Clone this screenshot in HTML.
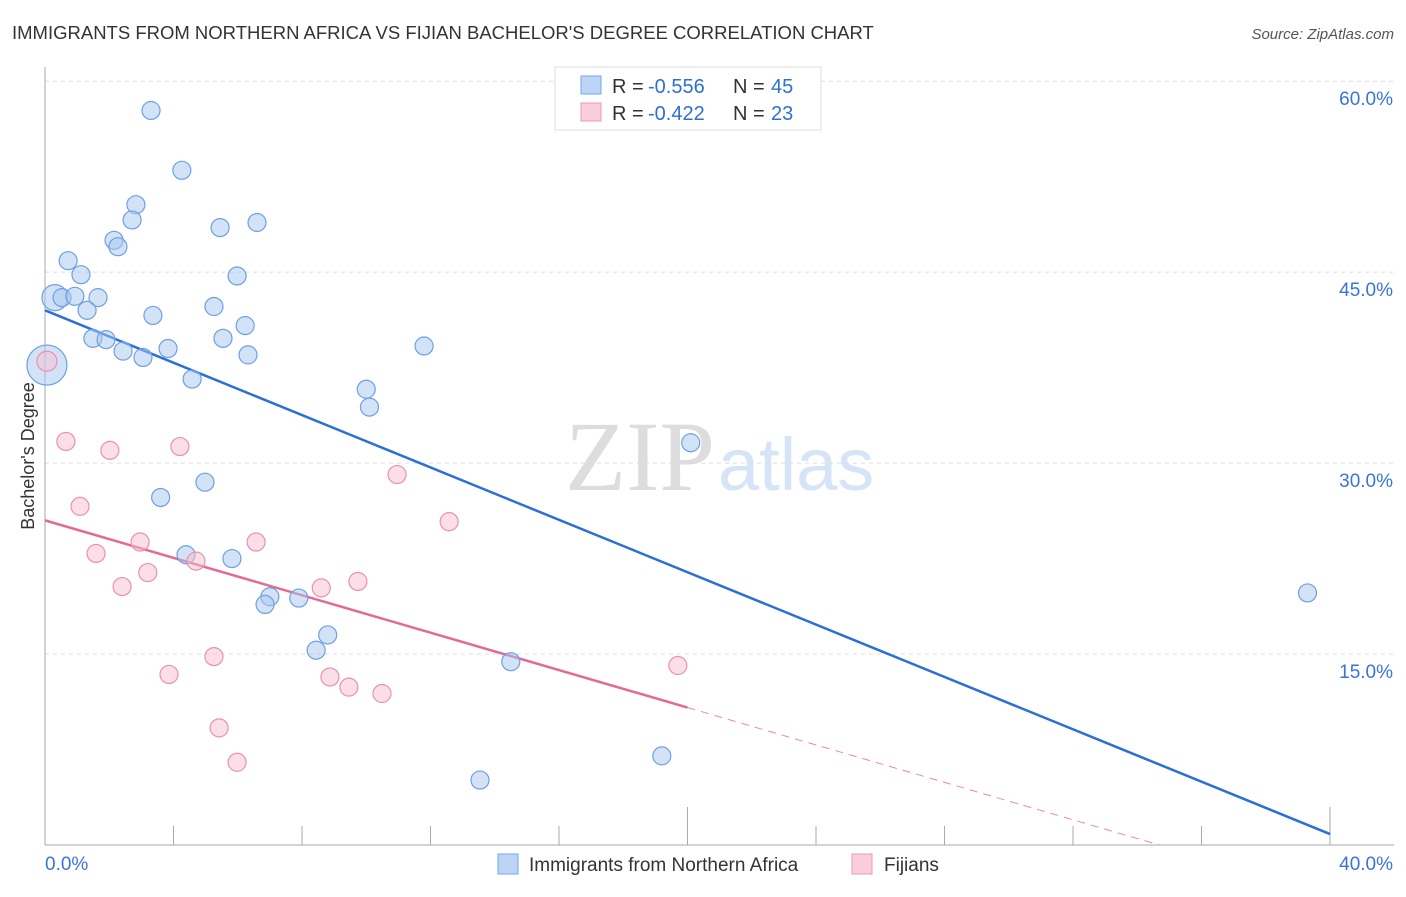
<!DOCTYPE html>
<html><head><meta charset="utf-8"><style>
body{margin:0;background:#fff;font-family:"Liberation Sans",sans-serif}
svg text{font-family:"Liberation Sans",sans-serif}
</style></head><body>
<svg id="chart" width="1406" height="892">
<text x="12" y="39" font-size="18.5" fill="#333">IMMIGRANTS FROM NORTHERN AFRICA VS FIJIAN BACHELOR'S DEGREE CORRELATION CHART</text>
<text x="1394" y="39" font-size="15" fill="#555" font-style="italic" text-anchor="end">Source: ZipAtlas.com</text>
<text x="715" y="490" font-size="100" fill="#ddd" text-anchor="end" style="font-family:'Liberation Serif',serif">ZIP</text>
<text x="718" y="490" font-size="74" fill="#d6e4f7">atlas</text>
<g id="grid"></g>
<g id="axes"></g>
<g id="lines"></g>
<g id="pts"></g>
<text x="34" y="456" font-size="18" fill="#333" text-anchor="middle" transform="rotate(-90 34 456)">Bachelor's Degree</text>
<g>
<rect x="555" y="67" width="266" height="63" fill="#fff" stroke="#ddd"/>
<rect x="581" y="76" width="20" height="18" fill="#bcd4f5" stroke="#7aa6e6"/>
<text x="612" y="93" font-size="20" fill="#333">R =</text>
<text x="648" y="93" font-size="20" fill="#2f6fd6">-0.556</text>
<text x="733" y="93" font-size="20" fill="#333">N =</text>
<text x="771" y="93" font-size="20" fill="#2f6fd6">45</text>
<rect x="581" y="103" width="20" height="18" fill="#f9cdda" stroke="#ee9ab5"/>
<text x="612" y="120" font-size="20" fill="#333">R =</text>
<text x="648" y="120" font-size="20" fill="#2f6fd6">-0.422</text>
<text x="733" y="120" font-size="20" fill="#333">N =</text>
<text x="771" y="120" font-size="20" fill="#2f6fd6">23</text>
</g>
<g>
<rect x="498" y="854" width="20" height="20" fill="#bcd4f5" stroke="#7aa6e6"/>
<text x="529" y="871" font-size="19" fill="#333">Immigrants from Northern Africa</text>
<rect x="852" y="854" width="20" height="20" fill="#f9cdda" stroke="#ee9ab5"/>
<text x="884" y="871" font-size="19" fill="#333">Fijians</text>
</g>
</svg>
<script>
const blueX=[3.3,4.26,2.83,2.71,5.45,6.6,2.15,2.27,0.72,1.12,5.98,0.31,0.53,0.93,1.65,1.31,5.26,3.36,6.23,1.49,1.9,5.54,2.43,3.05,3.83,6.32,11.8,4.58,10.0,10.1,0.06,20.1,3.6,4.98,4.39,5.82,7.0,6.85,7.9,8.8,8.44,14.5,39.3,13.54,19.2];
const blueY=[57.7,53.0,50.3,49.1,48.5,48.9,47.5,47.0,45.9,44.8,44.7,43.0,43.0,43.1,43.0,42.0,42.3,41.6,40.8,39.8,39.7,39.8,38.8,38.3,39.0,38.5,39.2,36.6,35.8,34.4,37.7,31.6,27.3,28.5,22.8,22.5,19.5,18.9,19.4,16.5,15.3,14.4,19.8,5.1,7.0];
const blueR=[9,9,9,9,9,9,9,9,9,9,9,13,9,9,9,9,9,9,9,9,9,9,9,9,9,9,9,9,9,9,20,9,9,9,9,9,9,9,9,9,9,9,9,9,9];
const pinkX=[0.06,0.65,2.02,4.2,1.09,10.96,12.58,1.59,2.96,6.57,4.7,3.2,2.4,8.6,9.74,5.26,3.86,8.87,9.46,10.49,19.7,5.42,5.98];
const pinkY=[38.0,31.7,31.0,31.3,26.6,29.1,25.4,22.9,23.8,23.8,22.3,21.4,20.3,20.2,20.7,14.8,13.4,13.2,12.4,11.9,14.1,9.2,6.5];
const yTicks=[15,30,45,60];
const yTickLabels=["15.0%","30.0%","45.0%","60.0%"];
const xTicks=[4,8,12,16,20,24,28,32,36,40];
const blueTrend=[42.0,0.86];
const pinkTrend=[25.5,10.8];
const NS="http://www.w3.org/2000/svg";
const X=v=>45+v*32.125, Y=v=>845-v*12.73;
function mk(p,t,a){const e=document.createElementNS(NS,t);for(const k in a)e.setAttribute(k,a[k]);document.getElementById(p).appendChild(e);return e;}
yTicks.forEach((v,i)=>{
 const l=mk('grid','line',{x1:45,x2:1394,y1:Y(v),y2:Y(v),stroke:'#ddd','stroke-dasharray':'4,4'});
 
 
 const t=mk('grid','text',{x:1393,y:Y(v)+24,'text-anchor':'end','font-size':19,fill:'#3b74d8'});t.textContent=yTickLabels[i];
 
 
});
const ax=mk('axes','line',{x1:45,x2:1394,y1:845,y2:845,stroke:'#aaa'});


const ay=mk('axes','line',{x1:45,x2:45,y1:67,y2:845,stroke:'#aaa'});


xTicks.forEach(v=>{const t=mk('axes','line',{x1:X(v),x2:X(v),y1:(v%20==0?807:826),y2:845,stroke:'#aaa'});
 
 });
[["0.0%",45,'start'],["40.0%",1393,'end']].forEach(d=>{const t=mk('axes','text',{x:d[1],y:870,'text-anchor':d[2],'font-size':19,fill:'#3b74d8'});t.textContent=d[0];
 
 });
blueX.forEach((v,i)=>{const c=mk('pts','circle',{cx:X(v),cy:Y(blueY[i]),r:blueR[i],fill:'rgba(168,200,240,0.5)',stroke:'#6f9fe2','stroke-width':1.2});
 
 });
pinkX.forEach((v,i)=>{const c=mk('pts','circle',{cx:X(v),cy:Y(pinkY[i]),r:i==0?10:9,fill:'rgba(248,190,210,0.5)',stroke:'#e991ae','stroke-width':1.2});
 
 });
const bl=mk('lines','line',{x1:X(0),y1:Y(blueTrend[0]),x2:X(40),y2:Y(blueTrend[1]),stroke:'#2a6fd9','stroke-width':2.5});


const slope=(pinkTrend[1]-pinkTrend[0])/20, xEnd=-pinkTrend[0]/slope;
const pl=mk('lines','line',{x1:X(0),y1:Y(pinkTrend[0]),x2:X(20),y2:Y(pinkTrend[1]),stroke:'#e46a93','stroke-width':2.5});


const pd=mk('lines','line',{x1:X(20),y1:Y(pinkTrend[1]),x2:X(xEnd),y2:Y(0),stroke:'#e88aa8','stroke-width':1,'stroke-dasharray':'8,6'});


</script>
</body></html>
